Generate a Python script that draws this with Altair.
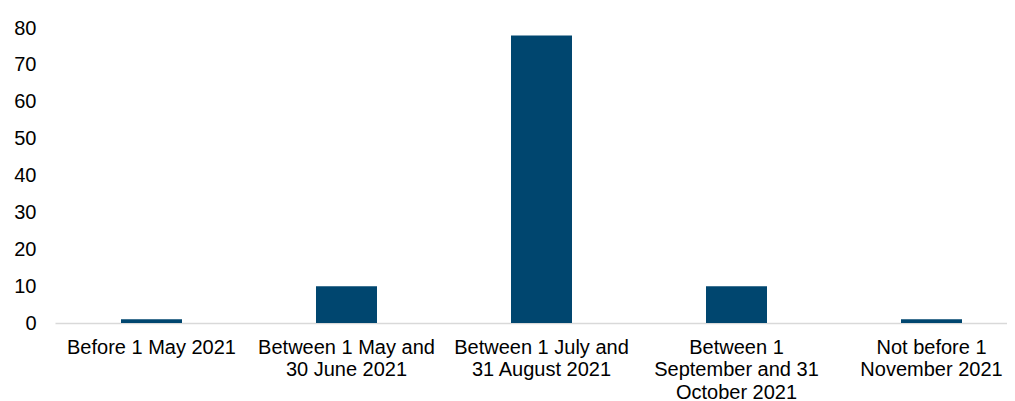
import altair as alt
import pandas as pd

categories = [
    "Before 1 May 2021",
    "Between 1 May and 30 June 2021",
    "Between 1 July and 31 August 2021",
    "Between 1 September and 31 October 2021",
    "Not before 1 November 2021",
]
label_lines = [
    "Before 1 May 2021",
    "Between 1 May and\n30 June 2021",
    "Between 1 July and\n31 August 2021",
    "Between 1\nSeptember and 31\nOctober 2021",
    "Not before 1\nNovember 2021",
]
values = [1, 10, 78, 10, 1]

df = pd.DataFrame({"category": label_lines, "value": values})

chart = (
    alt.Chart(df)
    .mark_bar(color="#00466F")
    .encode(
        x=alt.X(
            "category:N",
            sort=label_lines,
            scale=alt.Scale(paddingInner=0.6872, paddingOuter=0.2846, align=0.5946),
            axis=alt.Axis(
                title=None,
                labelAngle=0,
                labelExpr="split(datum.label, '\\n')",
                labelFont="Liberation Sans",
                labelFontSize=20,
                labelColor="#000000",
                labelLineHeight=22.5,
                labelPadding=14,
                labelLimit=400,
                ticks=False,
                domainColor="#D9D9D9",
                domainWidth=1.5,
                labelBaseline="top",
            ),
        ),
        y=alt.Y(
            "value:Q",
            scale=alt.Scale(domain=[0, 80]),
            axis=alt.Axis(
                title=None,
                values=[0, 10, 20, 30, 40, 50, 60, 70, 80],
                grid=False,
                domain=False,
                ticks=False,
                labelFont="Liberation Sans",
                labelFontSize=20,
                labelColor="#000000",
                labelPadding=19,
            ),
        ),
    )
    .properties(
        width=952,
        height=295,
        autosize=alt.AutoSizeParams(type="none"),
        padding={"left": 47, "top": 20, "right": 0, "bottom": 78},
    )
    .configure_view(stroke=None)
)

chart.save("out.html", embed_options={"renderer": "svg", "actions": False})
